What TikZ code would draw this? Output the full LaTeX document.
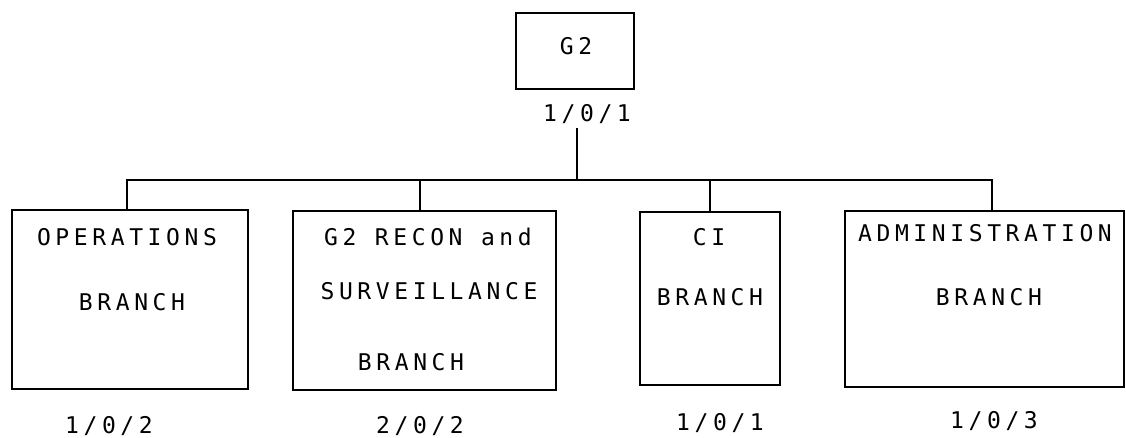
\documentclass[tikz,border=0pt]{standalone}
\usepackage{fontspec}
\newfontfamily\dotfont[LetterSpace=20]{DejaVu Sans Mono}
\begin{document}
\begin{tikzpicture}[x=1pt,y=-1pt,
  box/.style={draw=black,line width=1.2pt,inner sep=0pt},
  txt/.style={font=\dotfont\fontsize{23}{27}\selectfont,inner sep=0pt,text depth=0pt,anchor=center},
  conn/.style={draw=black,line width=1.1pt}]
\useasboundingbox (0,0) rectangle (1126,437);
% boxes
\node[box,minimum width=118pt,minimum height=76pt] (g2) at (575,51) {};
\node[box,minimum width=236pt,minimum height=179pt] (ops) at (130,299.5) {};
\node[box,minimum width=263pt,minimum height=179pt] (rec) at (424.5,300.5) {};
\node[box,minimum width=140pt,minimum height=173pt] (ci) at (710,298.5) {};
\node[box,minimum width=279pt,minimum height=176pt] (adm) at (984.5,299) {};
% texts
\node[txt] (g2t) at (576,46) {G2};
\node[txt] (g2n) at (587,113) {1/0/1};
\node[txt] (opst1) at (127,237) {OPERATIONS};
\node[txt] (opst2) at (132,302) {BRANCH};
\node[txt] (opsn) at (109,425) {1/0/2};
\node[txt] (rect1) at (428,237) {G2 RECON and};
\node[txt] (rect2) at (429,291) {SURVEILLANCE};
\node[txt] (rect3) at (411,362) {BRANCH};
\node[txt] (recn) at (420,425) {2/0/2};
\node[txt] (cit1) at (709,237) {CI};
\node[txt] (cit2) at (710,297) {BRANCH};
\node[txt] (cin) at (720,422) {1/0/1};
\node[txt] (admt1) at (985,233) {ADMINISTRATION};
\node[txt] (admt2) at (989,297) {BRANCH};
\node[txt] (admn) at (994,420) {1/0/3};
% connectors
\coordinate (top) at (577,128);
\coordinate (bj) at (577,180);
\draw[conn] (top) -- (bj);
\draw[conn] ([xshift=-3pt]ops.north) |- ([xshift=7.5pt]adm.north |- bj) -- ([xshift=7.5pt]adm.north);
\draw[conn] ([xshift=-4.5pt]rec.north) -- ([xshift=-4.5pt]rec.north |- bj);
\draw[conn] (ci.north) -- (ci.north |- bj);
\end{tikzpicture}
\end{document}
